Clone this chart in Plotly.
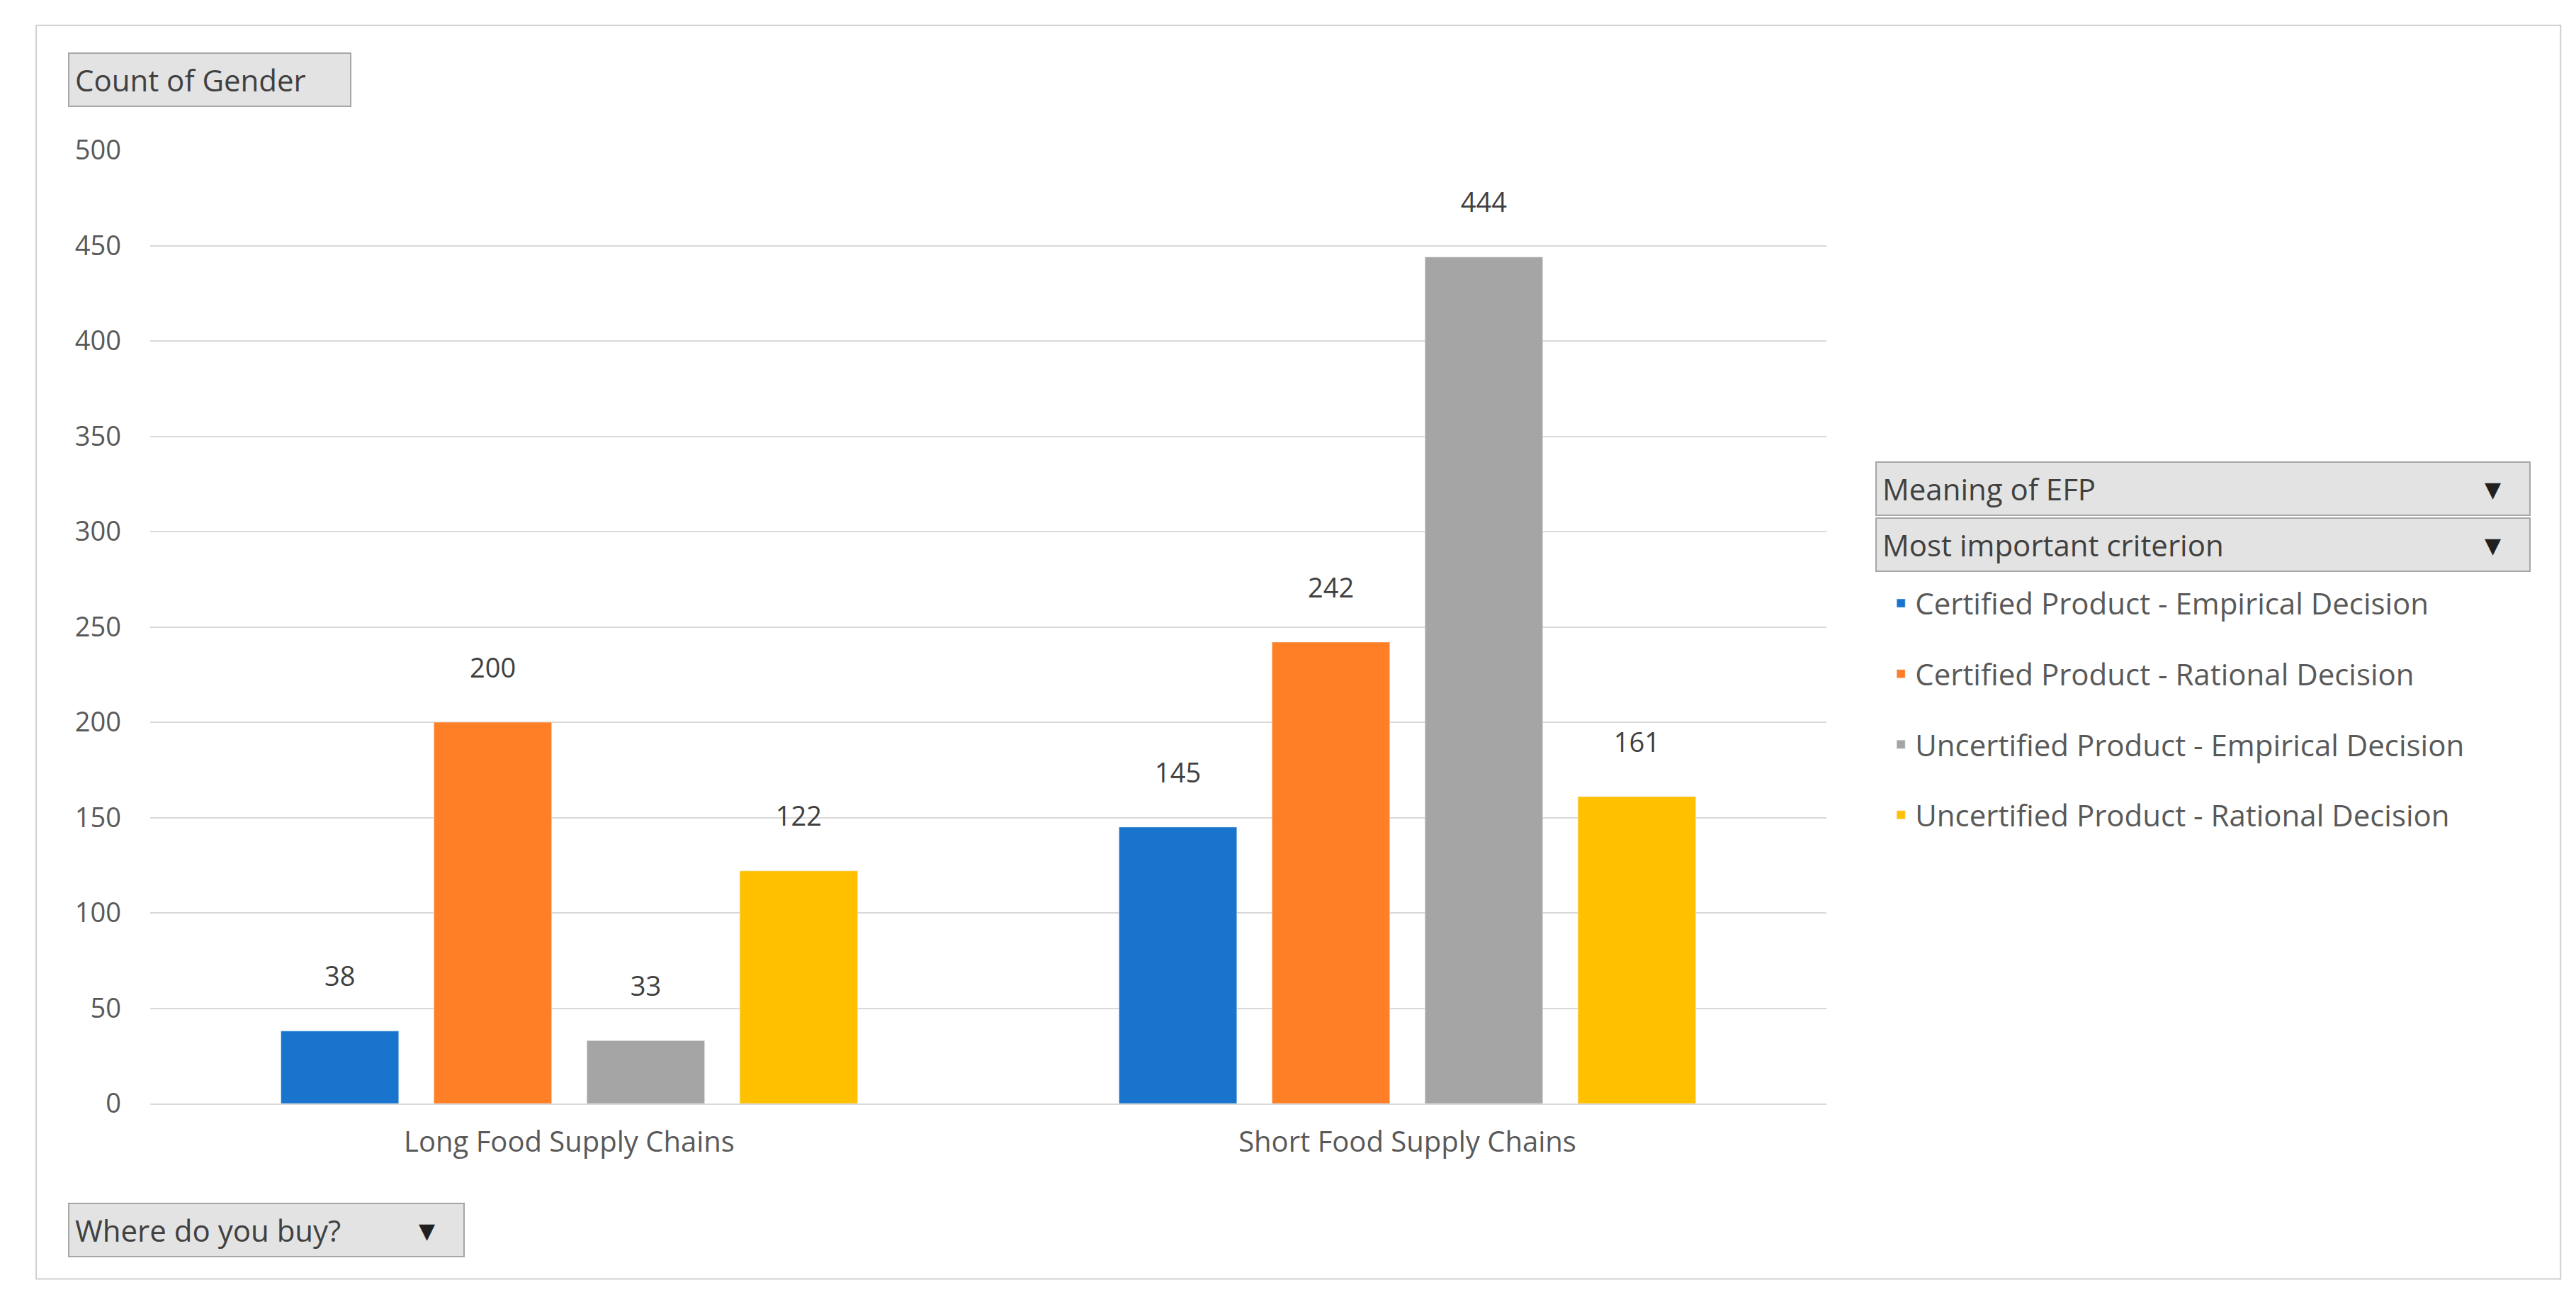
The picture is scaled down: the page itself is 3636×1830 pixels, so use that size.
import plotly.graph_objects as go

categories = ["Long Food Supply Chains", "Short Food Supply Chains"]
series_names = ["Certified Product - Empirical Decision", "Certified Product - Rational Decision",
                "Uncertified Product - Empirical Decision", "Uncertified Product - Rational Decision"]
series_values = [[38, 145], [200, 242], [33, 444], [122, 161]]
colors = ["#1874CD", "#FF7F27", "#A5A5A5", "#FFC000"]
y_ticks = [0, 50, 100, 150, 200, 250, 300, 350, 400, 450, 500]

fig = go.Figure()
for i, (n, v) in enumerate(zip(series_names, series_values)):
    fig.add_bar(x=categories, y=v, name=n, marker_color=colors[i],
                text=[f"{t}<br> " for t in v],
                textposition="outside", textfont=dict(size=38, color="#404040"),
                cliponaxis=False, legendgroup=str(i))

font = "Segoe UI, Open Sans, DejaVu Sans"
fig.update_layout(
    width=3636, height=1830, paper_bgcolor="white", plot_bgcolor="white",
    margin=dict(l=204, r=1066, t=204, b=281),
    font=dict(family=font, color="#595959", size=38),
    barmode="group", bargap=0.27, bargroupgap=0.23,
    uniformtext=dict(minsize=38, mode="show"),
    yaxis=dict(range=[0, 500], tickvals=y_ticks, gridcolor="#D9D9D9", gridwidth=2,
               zeroline=False, showline=False, tickfont=dict(size=38), ticklabelstandoff=40),
    xaxis=dict(showline=True, linecolor="#D9D9D9", linewidth=2, tickfont=dict(size=40),
               ticklabelstandoff=18),
    legend=dict(x=1.036, y=0.55, xanchor="left", yanchor="top", font=dict(size=42),
                tracegroupgap=42, itemwidth=30),
    showlegend=True,
)

def button(text, x, y, w, arrow=False):
    fig.add_annotation(xref="paper", yref="paper", x=x, y=y, xanchor="left", yanchor="middle",
                       text=text, showarrow=False, align="left",
                       width=w, bgcolor="#E3E3E3", bordercolor="#A6A6A6", borderwidth=2,
                       borderpad=8, font=dict(size=42, color="#404040"))
    if arrow:
        fig.add_annotation(xref="paper", yref="paper", x=x + (w - 20) / 2366, y=y,
                           xanchor="right", yanchor="middle", text="▼", showarrow=False,
                           font=dict(size=30, color="#202020"))

button("Count of Gender", -0.049, 1.074, 380)
button("Where do you buy?", -0.049, -0.133, 540, True)
button("Meaning of EFP", 1.029, 0.645, 905, True)
button("Most important criterion", 1.029, 0.586, 905, True)

fig.add_shape(type="rect", xref="paper", yref="paper", x0=-0.068, x1=1.438, y0=-0.184, y1=1.131,
              line=dict(color="#D0D0D0", width=2))

fig.write_html("out.html")
